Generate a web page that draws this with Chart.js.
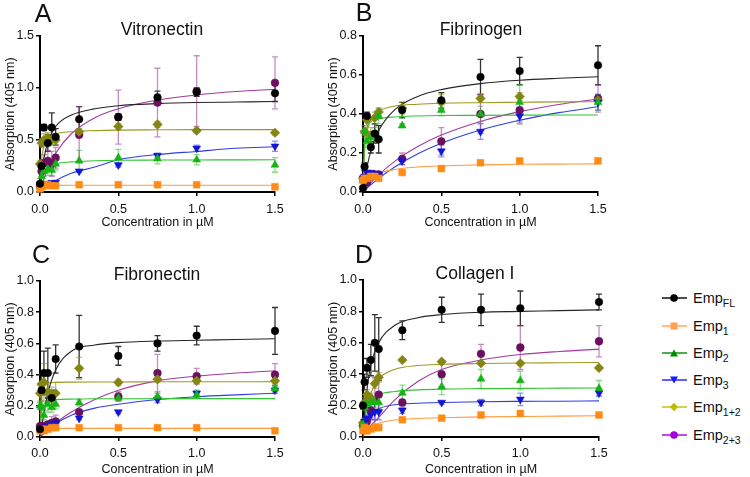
<!DOCTYPE html>
<html lang="en">
<head>
<meta charset="UTF-8" />
<title>Emp binding curves</title>
<script src="https://cdn.jsdelivr.net/npm/chart.js"></script>
<style>
  body { margin: 0; background: #fff; font-family: 'Liberation Sans', Arial, Helvetica, sans-serif; color: #111; }
  #wrap { position: relative; width: 750px; height: 477px; overflow: hidden; background: #fff; }
  canvas { position: absolute; }
  .lbl { position: absolute; transform: translate(-50%, -50%); white-space: nowrap; line-height: 1; }
  .letter { font-size: 25px; }
  .ptitle { font-size: 17.5px; }
  .leg { position: absolute; left: 661px; height: 16px; display: flex; align-items: center; font-size: 14.5px; }
  .leg svg { margin-right: 5px; }
  .leg sub { font-size: 10.5px; vertical-align: -4px; line-height: 0; }
</style>
</head>
<body>
<div id="wrap"></div>

<script>
// concentrations (µM)
const conc = [0, 0.01, 0.025, 0.05, 0.075, 0.1, 0.25, 0.5, 0.75, 1.0, 1.5];
// x positions of the read-off fitted curves
const fitX = [0, 0.01, 0.025, 0.05, 0.1, 0.2, 0.35, 0.5, 0.75, 1.0, 1.25, 1.5];

const seriesNames = ['FL', '1', '2', '3', '1+2', '2+3'];

// A - Vitronectin
const vitFL   = [0.08, 0.25, 0.62, 0.47, 0.62, 0.53, 0.70, 0.72, 0.91, 0.96, 0.95];
const vitFLe  = [0.02, 0.05, 0.03, 0.08, 0.14, 0.08, 0.12, 0.03, 0.06, 0.04, 0.08];
const vit1    = [0.03, 0.05, 0.06, 0.07, 0.06, 0.06, 0.07, 0.07, 0.07, 0.07, 0.05];
const vit1e   = [0.01, 0.01, 0.01, 0.01, 0.01, 0.01, 0.01, 0.01, 0.01, 0.01, 0.01];
const vit2    = [0.05, 0.15, 0.20, 0.22, 0.21, 0.27, 0.30, 0.33, 0.32, 0.31, 0.26];
const vit2e   = [0.02, 0.04, 0.05, 0.06, 0.05, 0.06, 0.10, 0.08, 0.05, 0.05, 0.07];
const vit3    = [0.03, 0.04, 0.07, 0.08, 0.09, 0.09, 0.20, 0.26, 0.35, 0.42, 0.44];
const vit3e   = [0.01, 0.01, 0.01, 0.01, 0.01, 0.02, 0.01, 0.02, 0.02, 0.03, 0.05];
const vit12   = [0.27, 0.47, 0.50, 0.52, 0.50, 0.50, 0.58, 0.63, 0.65, 0.59, 0.57];
const vit12e  = [0.03, 0.04, 0.06, 0.05, 0.05, 0.05, 0.03, 0.03, 0.03, 0.02, 0.02];
const vit23   = [0.07, 0.20, 0.28, 0.30, 0.27, 0.33, 0.55, 0.72, 0.86, 0.97, 1.05];
const vit23e  = [0.02, 0.05, 0.08, 0.10, 0.12, 0.10, 0.27, 0.26, 0.33, 0.34, 0.25];
const vitFLfit = [0, 0.16, 0.32, 0.48, 0.63, 0.74, 0.80, 0.83, 0.85, 0.86, 0.865, 0.87];
const vit1fit  = [0, 0.045, 0.058, 0.062, 0.064, 0.065, 0.065, 0.065, 0.065, 0.065, 0.065, 0.065];
const vit2fit  = [0, 0.12, 0.19, 0.24, 0.27, 0.29, 0.30, 0.305, 0.307, 0.308, 0.309, 0.31];
const vit3fit  = [0, 0.014, 0.033, 0.063, 0.11, 0.18, 0.24, 0.31, 0.36, 0.39, 0.42, 0.435];
const vit12fit = [0, 0.30, 0.44, 0.52, 0.56, 0.58, 0.59, 0.595, 0.598, 0.60, 0.60, 0.60];
const vit23fit = [0, 0.053, 0.124, 0.224, 0.373, 0.56, 0.713, 0.80, 0.884, 0.933, 0.966, 0.988];

// B - Fibrinogen
const fgFL   = [0.02, 0.13, 0.39, 0.23, 0.30, 0.27, 0.42, 0.47, 0.59, 0.62, 0.65];
const fgFLe  = [0.01, 0.02, 0.02, 0.03, 0.05, 0.07, 0.04, 0.04, 0.09, 0.07, 0.10];
const fg1    = [0.06, 0.07, 0.07, 0.08, 0.08, 0.07, 0.10, 0.12, 0.15, 0.16, 0.16];
const fg1e   = [0.005, 0.005, 0.005, 0.005, 0.005, 0.005, 0.005, 0.005, 0.005, 0.005, 0.005];
const fg2    = [0.06, 0.31, 0.26, 0.28, 0.29, 0.39, 0.34, 0.42, 0.40, 0.46, 0.46];
const fg2e   = [0.01, 0.02, 0.03, 0.03, 0.04, 0.04, 0.01, 0.03, 0.04, 0.09, 0.04];
const fg3    = [0.07, 0.08, 0.10, 0.10, 0.09, 0.09, 0.16, 0.21, 0.31, 0.39, 0.46];
const fg3e   = [0.01, 0.01, 0.01, 0.01, 0.01, 0.01, 0.02, 0.03, 0.04, 0.04, 0.04];
const fg12   = [0.07, 0.31, 0.37, 0.29, 0.38, 0.41, 0.43, 0.46, 0.48, 0.49, 0.47];
const fg12e  = [0.01, 0.03, 0.03, 0.04, 0.03, 0.02, 0.03, 0.04, 0.02, 0.02, 0.01];
const fg23   = [0.07, 0.06, 0.05, 0.08, 0.09, 0.09, 0.17, 0.26, 0.40, 0.42, 0.48];
const fg23e  = [0.01, 0.01, 0.01, 0.01, 0.01, 0.01, 0.03, 0.07, 0.10, 0.06, 0.07];
const fgFLfit = [0, 0.057, 0.126, 0.21, 0.315, 0.42, 0.49, 0.525, 0.556, 0.573, 0.583, 0.591];
const fg1fit  = [0, 0.021, 0.044, 0.068, 0.094, 0.115, 0.128, 0.134, 0.139, 0.142, 0.143, 0.144];
const fg2fit  = [0, 0.26, 0.33, 0.36, 0.375, 0.385, 0.39, 0.392, 0.393, 0.394, 0.395, 0.395];
const fg3fit  = [0, 0.008, 0.019, 0.037, 0.07, 0.127, 0.196, 0.25, 0.318, 0.368, 0.407, 0.437];
const fg12fit = [0, 0.21, 0.31, 0.375, 0.415, 0.44, 0.45, 0.455, 0.458, 0.46, 0.462, 0.463];
const fg23fit = [0, 0.01, 0.024, 0.047, 0.088, 0.156, 0.233, 0.292, 0.362, 0.412, 0.449, 0.477];

// C - Fibronectin
const fnFL   = [0.05, 0.30, 0.41, 0.41, 0.25, 0.50, 0.58, 0.52, 0.60, 0.65, 0.68];
const fnFLe  = [0.01, 0.10, 0.14, 0.16, 0.05, 0.09, 0.20, 0.06, 0.05, 0.06, 0.15];
const fn1    = [0.04, 0.05, 0.04, 0.05, 0.06, 0.06, 0.06, 0.06, 0.06, 0.06, 0.04];
const fn1e   = [0.005, 0.005, 0.005, 0.005, 0.005, 0.005, 0.005, 0.005, 0.005, 0.005, 0.005];
const fn2    = [0.20, 0.19, 0.14, 0.21, 0.19, 0.21, 0.22, 0.25, 0.26, 0.27, 0.31];
const fn2e   = [0.02, 0.04, 0.03, 0.05, 0.03, 0.03, 0.02, 0.02, 0.02, 0.02, 0.02];
const fn3    = [0.05, 0.06, 0.06, 0.07, 0.08, 0.09, 0.12, 0.16, 0.24, 0.28, 0.30];
const fn3e   = [0.01, 0.01, 0.01, 0.01, 0.01, 0.01, 0.01, 0.01, 0.02, 0.02, 0.02];
const fn12   = [0.28, 0.34, 0.35, 0.29, 0.27, 0.28, 0.44, 0.35, 0.37, 0.36, 0.36];
const fn12e  = [0.05, 0.06, 0.12, 0.06, 0.05, 0.07, 0.07, 0.02, 0.02, 0.02, 0.02];
const fn23   = [0.07, 0.07, 0.07, 0.08, 0.09, 0.10, 0.16, 0.26, 0.41, 0.39, 0.40];
const fn23e  = [0.01, 0.01, 0.02, 0.02, 0.04, 0.04, 0.01, 0.03, 0.12, 0.05, 0.07];
const fnFLfit = [0, 0.06, 0.15, 0.28, 0.43, 0.55, 0.59, 0.605, 0.615, 0.62, 0.625, 0.63];
const fn1fit  = [0, 0.035, 0.048, 0.052, 0.054, 0.055, 0.055, 0.055, 0.055, 0.055, 0.055, 0.055];
const fn2fit  = [0, 0.16, 0.21, 0.23, 0.24, 0.243, 0.245, 0.245, 0.246, 0.246, 0.246, 0.246];
const fn3fit  = [0, 0.01, 0.025, 0.045, 0.085, 0.14, 0.185, 0.21, 0.24, 0.258, 0.27, 0.28];
const fn12fit = [0, 0.30, 0.335, 0.345, 0.35, 0.352, 0.353, 0.353, 0.354, 0.354, 0.354, 0.355];
const fn23fit = [0, 0.01, 0.025, 0.05, 0.09, 0.16, 0.24, 0.30, 0.36, 0.39, 0.41, 0.425];

// D - Collagen I
const colFL   = [0.20, 0.35, 0.44, 0.49, 0.60, 0.56, 0.68, 0.81, 0.81, 0.82, 0.86];
const colFLe  = [0.02, 0.05, 0.06, 0.10, 0.18, 0.20, 0.06, 0.08, 0.10, 0.11, 0.05];
const col1    = [0.04, 0.06, 0.04, 0.05, 0.06, 0.06, 0.11, 0.12, 0.14, 0.15, 0.14];
const col1e   = [0.01, 0.01, 0.02, 0.01, 0.01, 0.01, 0.01, 0.01, 0.01, 0.01, 0.01];
const col2    = [0.08, 0.19, 0.21, 0.22, 0.22, 0.22, 0.28, 0.32, 0.37, 0.36, 0.31];
const col2e   = [0.01, 0.02, 0.03, 0.03, 0.03, 0.04, 0.05, 0.05, 0.06, 0.06, 0.05];
const col3    = [0.06, 0.10, 0.12, 0.14, 0.16, 0.16, 0.17, 0.22, 0.22, 0.24, 0.28];
const col3e   = [0.01, 0.02, 0.02, 0.03, 0.05, 0.05, 0.02, 0.01, 0.02, 0.04, 0.02];
const col12   = [0.09, 0.22, 0.27, 0.25, 0.34, 0.38, 0.49, 0.48, 0.47, 0.47, 0.44];
const col12e  = [0.01, 0.03, 0.03, 0.03, 0.03, 0.03, 0.01, 0.01, 0.01, 0.01, 0.01];
const col23   = [0.07, 0.08, 0.10, 0.17, 0.23, 0.27, 0.22, 0.40, 0.53, 0.57, 0.61];
const col23e  = [0.01, 0.01, 0.02, 0.05, 0.15, 0.11, 0.02, 0.08, 0.06, 0.14, 0.10];
const colFLfit = [0, 0.15, 0.30, 0.46, 0.60, 0.71, 0.76, 0.78, 0.795, 0.80, 0.805, 0.81];
const col1fit  = [0, 0.025, 0.045, 0.065, 0.088, 0.108, 0.118, 0.123, 0.128, 0.131, 0.133, 0.135];
const col2fit  = [0, 0.10, 0.18, 0.235, 0.27, 0.29, 0.30, 0.305, 0.308, 0.31, 0.311, 0.312];
const col3fit  = [0, 0.05, 0.10, 0.145, 0.18, 0.205, 0.215, 0.22, 0.225, 0.227, 0.228, 0.23];
const col12fit = [0.05, 0.12, 0.19, 0.28, 0.37, 0.43, 0.455, 0.463, 0.468, 0.471, 0.473, 0.475];
const col23fit = [0.04, 0.045, 0.055, 0.075, 0.125, 0.235, 0.355, 0.43, 0.49, 0.525, 0.545, 0.56];

// styles per series
const markerColors = ['#000000', '#ff8a14', '#14b414', '#1414d4', '#858512', '#6b0f5e'];
const lineColors   = ['#262626', '#ff9a3c', '#33c433', '#2f3fe0', '#9a9a22', '#a23aa2'];
const errColors    = ['rgba(0,0,0,0.8)', 'rgba(255,150,60,0.55)', 'rgba(40,190,40,0.55)',
                      'rgba(40,60,230,0.55)', 'rgba(140,140,30,0.55)', 'rgba(150,50,140,0.55)'];
const legendColors = ['#000000', '#ffa050', '#008a00', '#1a1aff', '#bdbd00', '#a400dc'];
const shapes   = ['circle', 'rect', 'triangle', 'triangle', 'rectRot', 'circle'];
const rotations = [0, 0, 0, 180, 0, 0];
const radii    = [3.8, 4.8, 4.6, 4.6, 4.8, 3.9];

const panels = [
  { letter: 'A', title: 'Vitronectin', means: [vitFL, vit1, vit2, vit3, vit12, vit23],
    errs: [vitFLe, vit1e, vit2e, vit3e, vit12e, vit23e],
    fits: [vitFLfit, vit1fit, vit2fit, vit3fit, vit12fit, vit23fit],
    yMax: 1.5, yStep: 0.5, plot: [40, 36, 275, 192], box: 0, xTitle: 222.5, tickPad: 6,
    letterPos: [43, 13], titlePos: [162, 30] },
  { letter: 'B', title: 'Fibrinogen', means: [fgFL, fg1, fg2, fg3, fg12, fg23],
    errs: [fgFLe, fg1e, fg2e, fg3e, fg12e, fg23e],
    fits: [fgFLfit, fg1fit, fg2fit, fg3fit, fg12fit, fg23fit],
    yMax: 0.8, yStep: 0.2, plot: [363, 36, 598, 192], box: 0, xTitle: 222.5, tickPad: 6,
    letterPos: [364, 12], titlePos: [481, 30] },
  { letter: 'C', title: 'Fibronectin', means: [fnFL, fn1, fn2, fn3, fn12, fn23],
    errs: [fnFLe, fn1e, fn2e, fn3e, fn12e, fn23e],
    fits: [fnFLfit, fn1fit, fn2fit, fn3fit, fn12fit, fn23fit],
    yMax: 1.0, yStep: 0.2, plot: [40, 281, 275, 437], box: 230, xTitle: 470, tickPad: 5,
    letterPos: [41, 254], titlePos: [157, 275] },
  { letter: 'D', title: 'Collagen I', means: [colFL, col1, col2, col3, col12, col23],
    errs: [colFLe, col1e, col2e, col3e, col12e, col23e],
    fits: [colFLfit, col1fit, col2fit, col3fit, col12fit, col23fit],
    yMax: 1.0, yStep: 0.2, plot: [363, 280, 599, 437], box: 230, xTitle: 470, tickPad: 5,
    letterPos: [364, 254], titlePos: [475, 274] }
];

// error bars drawn under the markers
const errorBars = {
  id: 'errorBars',
  beforeDatasetsDraw(chart) {
    const { ctx, scales: { x, y } } = chart;
    chart.data.datasets.forEach(ds => {
      if (!ds.errors) return;
      ctx.save();
      ctx.strokeStyle = ds.errColor;
      ctx.lineWidth = 1.3;
      ds.data.forEach((p, i) => {
        const e = ds.errors[i];
        const px = x.getPixelForValue(p.x);
        const t = y.getPixelForValue(p.y + e);
        const b = y.getPixelForValue(Math.max(0, p.y - e));
        ctx.beginPath();
        ctx.moveTo(px, t); ctx.lineTo(px, b);
        ctx.moveTo(px - 3, t); ctx.lineTo(px + 3, t);
        ctx.moveTo(px - 3, b); ctx.lineTo(px + 3, b);
        ctx.stroke();
      });
      ctx.restore();
    });
  }
};

const FONT = "'Liberation Sans', Arial, Helvetica, sans-serif";
const wrap = document.getElementById('wrap');

function addLabel(text, cls, pos) {
  const d = document.createElement('div');
  d.className = 'lbl ' + cls;
  d.textContent = text;
  d.style.left = pos[0] + 'px';
  d.style.top = pos[1] + 'px';
  wrap.appendChild(d);
}

panels.forEach(p => {
  const [pl, pt, pr, pb] = p.plot;
  const yW = 40, xH = 42, padR = 22;
  const cv = document.createElement('canvas');
  const w = yW + (pr - pl) + padR;
  const h = pb - p.box + xH;
  cv.width = w; cv.height = h;
  cv.style.left = (pl - yW) + 'px';
  cv.style.top = p.box + 'px';
  wrap.appendChild(cv);

  const datasets = [];
  p.means.forEach((m, i) => {
    datasets.push({
      label: 'Emp' + seriesNames[i],
      data: conc.map((c, k) => ({ x: c, y: m[k] })),
      errors: p.errs[i],
      errColor: errColors[i],
      showLine: false,
      pointStyle: shapes[i],
      rotation: rotations[i],
      pointRadius: radii[i],
      pointBackgroundColor: markerColors[i],
      pointBorderColor: markerColors[i],
      pointBorderWidth: 0.5,
      clip: false
    });
  });
  p.fits.forEach((f, i) => {
    datasets.push({
      label: 'fit ' + seriesNames[i],
      data: fitX.map((c, k) => ({ x: c, y: f[k] })),
      showLine: true,
      pointRadius: 0,
      borderColor: lineColors[i],
      borderWidth: 1.1,
      cubicInterpolationMode: 'monotone',
      fill: false
    });
  });

  // x title offset: scale bottom sits at canvas bottom
  const xTitlePad = Math.max(0, (p.box + h) - p.xTitle - 7.5);

  new Chart(cv.getContext('2d'), {
    type: 'scatter',
    data: { datasets },
    plugins: [errorBars],
    options: {
      responsive: false,
      animation: false,
      layout: { padding: { top: pt - p.box, right: padR, bottom: 0, left: 0 } },
      plugins: { legend: { display: false }, tooltip: { enabled: false } },
      scales: {
        x: {
          type: 'linear', min: 0, max: 1.5,
          afterFit: s => { s.height = xH; },
          border: { display: true, color: '#000', width: 2 },
          grid: { drawOnChartArea: false, drawTicks: true, tickLength: 4, color: '#000', lineWidth: 1.5 },
          ticks: { stepSize: 0.5, padding: p.tickPad, color: '#111', font: { family: FONT, size: 12.5 },
                   callback: v => v.toFixed(1) },
          title: { display: true, text: 'Concentration in µM', color: '#111',
                   font: { family: FONT, size: 12.5 }, padding: { top: 0, bottom: xTitlePad } }
        },
        y: {
          type: 'linear', min: 0, max: p.yMax,
          afterFit: s => { s.width = yW; },
          border: { display: true, color: '#000', width: 2 },
          grid: { drawOnChartArea: false, drawTicks: true, tickLength: 4, color: '#000', lineWidth: 1.5 },
          ticks: { stepSize: p.yStep, padding: 2, color: '#111', font: { family: FONT, size: 12.5 },
                   callback: v => v.toFixed(1) },
          title: { display: true, text: 'Absorption (405 nm)', color: '#111',
                   font: { family: FONT, size: 12.5 }, padding: { top: 3, bottom: 0 } }
        }
      }
    }
  });

  addLabel(p.letter, 'letter', p.letterPos);
  addLabel(p.title, 'ptitle', p.titlePos);
});

// legend (HTML so the subscripts stay real text)
const legendRows = [298, 326, 353, 380, 407, 435];
const svgShape = (i, c) => {
  if (shapes[i] === 'circle') return `<circle cx="13" cy="7" r="3.8" fill="${c}"/>`;
  if (shapes[i] === 'rect') return `<rect x="9.5" y="3.5" width="7" height="7" fill="${c}"/>`;
  if (shapes[i] === 'rectRot') return `<polygon points="13,2.8 17.2,7 13,11.2 8.8,7" fill="${c}"/>`;
  if (rotations[i] === 180) return `<polygon points="9,3.5 17,3.5 13,10.5" fill="${c}"/>`;
  return `<polygon points="9,10.5 17,10.5 13,3.5" fill="${c}"/>`;
};
seriesNames.forEach((n, i) => {
  const row = document.createElement('div');
  row.className = 'leg';
  row.style.top = (legendRows[i] - 8) + 'px';
  const c = legendColors[i];
  row.innerHTML = `<svg width="27" height="14"><line x1="1" y1="7" x2="26" y2="7" stroke="${c}" stroke-width="1.4"/>${svgShape(i, c)}</svg>` +
                  `<span>Emp<sub>${n}</sub></span>`;
  wrap.appendChild(row);
});
</script>
</body>
</html>
